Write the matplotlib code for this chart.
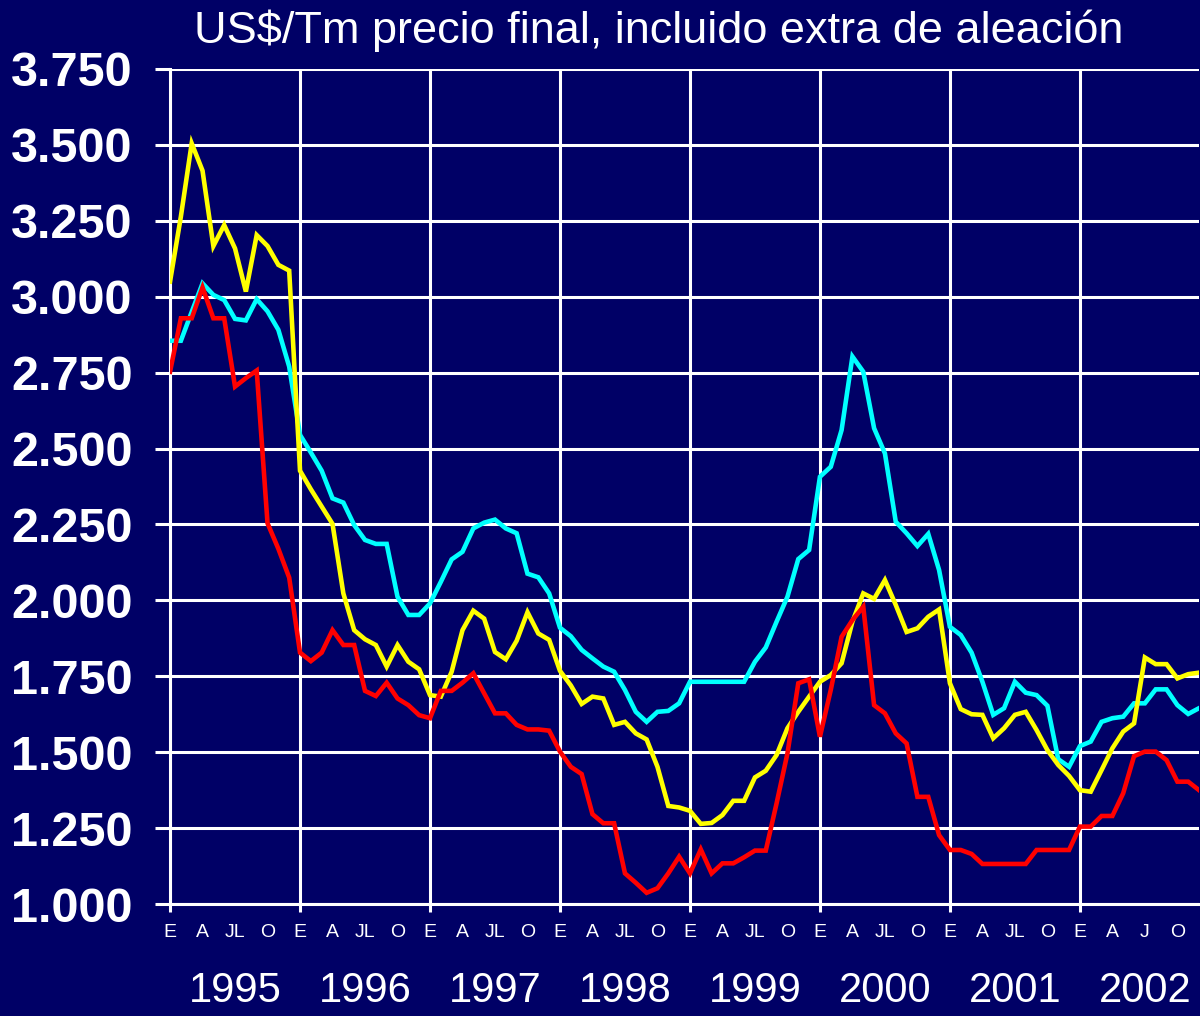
import matplotlib
matplotlib.use('Agg')
import matplotlib.pyplot as plt
from matplotlib.ticker import FuncFormatter
import numpy as np

# monthly prices, Jan 1995 .. Dec 2002 (US$/Tm)
years = [1995, 1996, 1997, 1998, 1999, 2000, 2001, 2002]
month_labels = ['E', 'A', 'JL', 'O']
month_labels_2002 = ['E', 'A', 'J', 'O']

yellow_prices = [
    3050, 3264, 3505, 3415, 3167, 3236, 3159, 3017, 3203, 3167, 3105, 3086,
    2427, 2366, 2309, 2252, 2023, 1902, 1872, 1853, 1782, 1853, 1798, 1773,
    1688, 1683, 1765, 1902, 1966, 1940, 1830, 1806, 1867, 1961, 1891, 1870,
    1768, 1720, 1659, 1683, 1677, 1590, 1600, 1562, 1542, 1452, 1323, 1318,
    1307, 1264, 1267, 1293, 1340, 1340, 1417, 1439, 1491, 1579, 1633, 1683,
    1732, 1754, 1793, 1930, 2023, 2005, 2067, 1985, 1896, 1908, 1946, 1970,
    1727, 1642, 1625, 1623, 1546, 1579, 1623, 1633, 1573, 1507, 1458, 1422,
    1375, 1370, 1441, 1513, 1568, 1595, 1812, 1790, 1790, 1743, 1757, 1762,
]

cyan_prices = [
    2855, 2855, 2950, 3044, 3006, 2989, 2927, 2922, 2992, 2952, 2891, 2770,
    2545, 2487, 2427, 2336, 2322, 2248, 2199, 2186, 2186, 2012, 1952, 1952,
    1990, 2061, 2135, 2160, 2237, 2256, 2266, 2237, 2221, 2088, 2076, 2023,
    1910, 1882, 1837, 1809, 1782, 1765, 1705, 1633, 1600, 1633, 1636, 1661,
    1732, 1732, 1732, 1732, 1732, 1732, 1798, 1845, 1930, 2012, 2136, 2166,
    2407, 2440, 2561, 2803, 2753, 2567, 2484, 2259, 2221, 2179, 2219, 2100,
    1913, 1886, 1828, 1732, 1623, 1645, 1732, 1696, 1688, 1653, 1477, 1452,
    1520, 1535, 1600, 1612, 1617, 1661, 1661, 1707, 1707, 1655, 1626, 1645,
]

red_prices = [
    2753, 2929, 2929, 3031, 2929, 2929, 2704, 2732, 2757, 2254, 2170, 2075,
    1828, 1800, 1828, 1902, 1853, 1853, 1702, 1685, 1729, 1677, 1655, 1622,
    1612, 1702, 1702, 1729, 1760, 1694, 1628, 1628, 1590, 1575, 1575, 1571,
    1502, 1452, 1428, 1296, 1266, 1266, 1101, 1070, 1037, 1052, 1101, 1156,
    1101, 1180, 1101, 1134, 1134, 1154, 1176, 1176, 1332, 1496, 1727, 1740,
    1551, 1705, 1880, 1935, 1979, 1655, 1628, 1562, 1529, 1353, 1353, 1227,
    1178, 1178, 1165, 1132, 1132, 1132, 1132, 1132, 1178, 1178, 1178, 1178,
    1255, 1255, 1290, 1290, 1365, 1487, 1502, 1502, 1474, 1403, 1403, 1375,
]

NAVY = '#000066'
plt.rcParams['font.family'] = ['Liberation Sans', 'DejaVu Sans']

fig = plt.figure(figsize=(12, 10.16), dpi=100)
fig.patch.set_facecolor(NAVY)
ax = fig.add_axes([0.1417, 0.1102, 0.8575, 0.8219])
ax.set_facecolor(NAVY)

months = np.arange(len(yellow_prices))
for serie, color in [(cyan_prices, '#00FFFF'), (yellow_prices, '#FFFF00'), (red_prices, '#FF0000')]:
    ax.plot(months, serie, color=color, lw=3.3, solid_joinstyle='miter', zorder=3)

ax.set_xlim(0, len(months) - 1)
ax.set_ylim(1000, 3750)

# year gridlines + price gridlines
ax.set_xticks(np.arange(0, len(months), 12))
ax.set_xticklabels([])
ax.set_yticks(np.arange(1000, 3751, 250))
ax.yaxis.set_major_formatter(FuncFormatter(lambda v, p: f"{v:,.0f}".replace(',', '.')))
ax.grid(True, color='white', lw=2.2)
ax.set_axisbelow(True)

ax.tick_params(axis='x', direction='out', length=6, width=2.2, color='white')
ax.tick_params(axis='y', direction='out', length=11, width=2.2, color='white',
               labelcolor='white', labelsize=35, pad=16)
for lab in ax.get_yticklabels():
    lab.set_fontweight('bold')

for side in ['top', 'right']:
    ax.spines[side].set_visible(False)
for side in ['left', 'bottom']:
    ax.spines[side].set_color('white')
    ax.spines[side].set_linewidth(2.2)

# month initials and years under the axis
trans = ax.get_xaxis_transform()
for k, year in enumerate(years):
    labels = month_labels_2002 if year == 2002 else month_labels
    for j, lab in enumerate(labels):
        ax.text(12 * k + 3 * j, -0.034, lab, transform=trans, ha='center', va='center',
                color='white', fontsize=14)
    ax.text(12 * k + 6, -0.104, str(year), transform=trans, ha='center', va='center',
            color='white', fontsize=30)

fig.text(0.549, 0.970, 'US$/Tm precio final, incluido extra de aleación',
         ha='center', va='center', color='white', fontsize=32.5)

fig.savefig('out.png', dpi=100, facecolor=NAVY)
